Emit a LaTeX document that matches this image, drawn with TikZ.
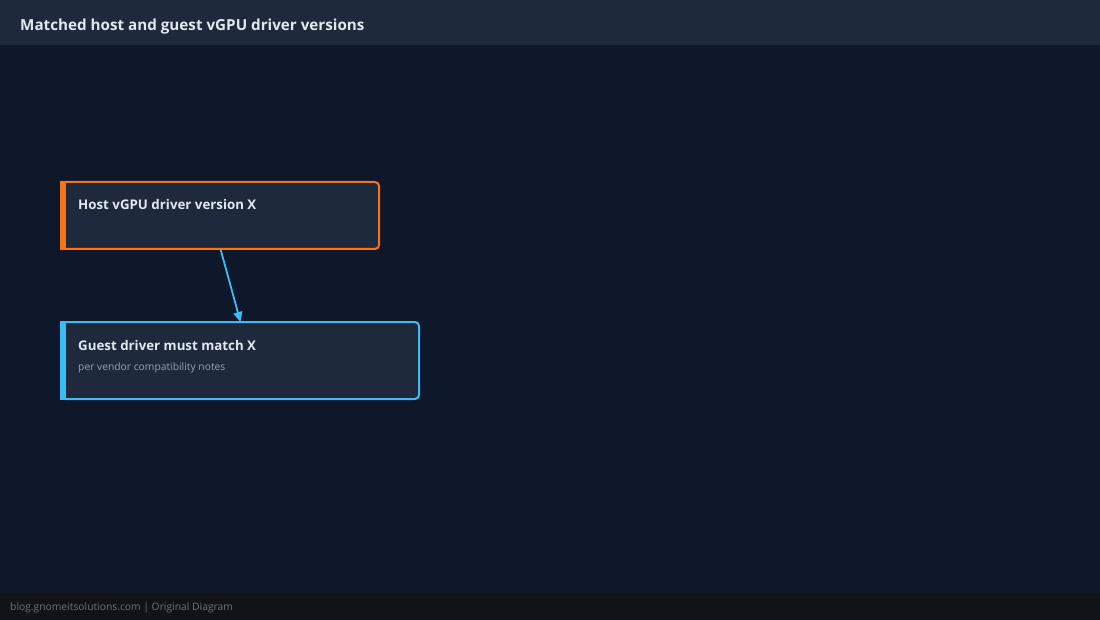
\documentclass[tikz,border=0pt]{standalone}
\usepackage{fontspec}
\setmainfont{Open Sans}
\usepackage{tikz}
\usetikzlibrary{arrows.meta}
\definecolor{canvas}{HTML}{0F172A}
\definecolor{headband}{HTML}{1E293B}
\definecolor{footband}{HTML}{111318}
\definecolor{boxfill}{HTML}{1E293B}
\definecolor{hostline}{HTML}{F97316}
\definecolor{guestline}{HTML}{38BDF8}
\definecolor{lighttext}{HTML}{E2E8F0}
\definecolor{softtext}{HTML}{94A3B8}
\definecolor{foottext}{HTML}{6B7280}

\begin{document}
\begin{tikzpicture}[
  x=1pt,y=-1pt,
  card/.style={draw,line width=2pt,rounded corners=4pt,fill=boxfill,inner sep=0pt,outer sep=0pt,anchor=north west},
  cardtitle/.style={anchor=base west,inner sep=0pt,text=lighttext,font=\fontsize{13.3}{15}\selectfont\bfseries},
  cardnote/.style={anchor=base west,inner sep=0pt,text=softtext,font=\fontsize{10.3}{12}\selectfont},
  flow/.style={-{Triangle[length=10pt,width=9pt]},line width=1.8pt,guestline}]

  % Background, header and footer
  \useasboundingbox (0,0) rectangle (1100,620);
  \fill[canvas] (0,0) rectangle (1100,620);
  \fill[headband] (0,0) rectangle (1100,45);
  \fill[footband] (0,594) rectangle (1100,620);
  \node[anchor=base west,inner sep=0pt,text=lighttext,font=\fontsize{15.2}{18}\selectfont\bfseries] (title) at (20,31) {Matched host and guest vGPU driver versions};
  \node[anchor=base west,inner sep=0pt,text=foottext,font=\fontsize{10.3}{12}\selectfont] (footer) at (10,610) {blog.gnomeitsolutions.com | Original Diagram};

  % The two boxes
  \node[card,draw=hostline,minimum width=317pt,minimum height=67pt] (host) at (62,182) {};
  \fill[hostline] (60,181) rectangle (66,250);
  \node[cardtitle] (hosttitle) at (78,210) {Host vGPU driver version X};

  \node[card,draw=guestline,minimum width=357pt,minimum height=77pt] (guest) at (62,322) {};
  \fill[guestline] (60,321) rectangle (66,400);
  \node[cardtitle] (guesttitle) at (78,350) {Guest driver must match X};
  \node[cardnote] (guestnote) at (78,370) {per vendor compatibility notes};

  % Connector
  \draw[flow] (host.south) -- (guest.north);
\end{tikzpicture}
\end{document}
